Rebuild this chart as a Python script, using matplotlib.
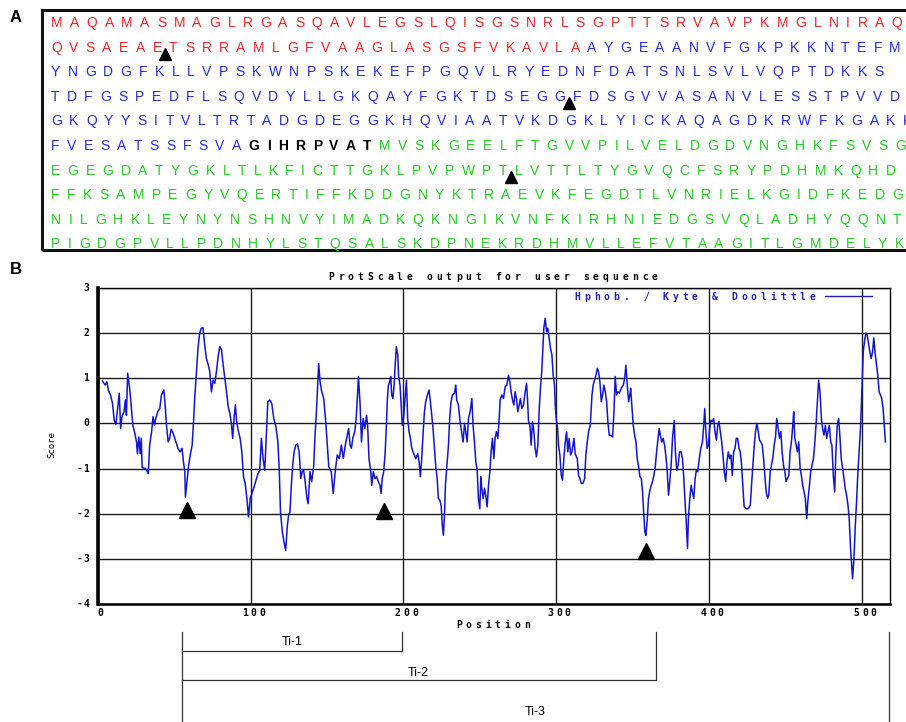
import matplotlib
matplotlib.use("Agg")
import matplotlib.pyplot as plt
import matplotlib.transforms as mtransforms
from matplotlib.lines import Line2D
from matplotlib.patches import Rectangle

W, H = 906, 722

# ---- panel A: sequence ----
SEQ_ROWS = [
    "MAQAMASMAGLRGASQAVLEGSLQISGSNRLSGPTTSRVAVPKMGLNIRAQ",
    "QVSAEAETSRRAMLGFVAAGLASGSFVKAVLAAYGEAANVFGKPKKNTEFMF",
    "YNGDGFKLLVPSKWNPSKEKEFPGQVLRYEDNFDATSNLSVLVQPTDKKS",
    "TDFGSPEDFLSQVDYLLGKQAYFGKTDSEGGFDSGVVASANVLESSTPVVD",
    "GKQYYSITVLTRTADGDEGGKHQVIAATVKDGKLYICKAQAGDKRWFKGAKK",
    "FVESATSSFSVAGIHRPVATMVSKGEELFTGVVPILVELDGDVNGHKFSVSG",
    "EGEGDATYGKLTLKFICTTGKLPVPWPTLVTTLTYGVQCFSRYPDHMKQHD",
    "FFKSAMPEGYVQERTIFFKDDGNYKTRAEVKFEGDTLVNRIELKGIDFKEDG",
    "NILGHKLEYNYNSHNVYIMADKQKNGIKVNFKIRHNIEDGSVQLADHYQQNT",
    "PIGDGPVLLPDNHYLSTQSALSKDPNEKRDHMVLLEFVTAAGITLGMDELYK",
]
N_RED, N_BLUE, N_LINK = 83, 185, 8
SEQ_MARKS = [(1, 6), (3, 30), (6, 27)]  # (row, residue index the mark follows)

# ---- panel B: Kyte & Doolittle profile ----
POS = [3.1, 4.9, 6.0, 7.1, 8.4, 9.7, 10.8, 11.9, 13.0, 14.1, 15.0, 15.9, 17.2, 18.1, 18.8, 19.6,
       20.8, 21.6, 23.0, 24.3, 25.4, 26.0, 26.9, 27.8, 28.5, 29.1, 31.3, 33.1, 34.0, 35.3, 36.2,
       37.1, 38.0, 39.3, 40.6, 41.7, 43.3, 44.2, 45.0, 46.1, 47.0, 48.1, 49.4, 51.2, 52.5, 53.9,
       55.2, 56.1, 57.0, 57.4, 58.3, 59.4, 60.7, 61.8, 62.7, 63.6, 64.5, 65.6, 66.7, 67.8, 68.9,
       70.0, 71.1, 72.4, 73.3, 74.4, 75.5, 76.6, 77.7, 78.8, 79.9, 81.0, 82.1, 83.2, 84.3, 85.4,
       86.5, 87.6, 88.3, 89.2, 90.1, 90.9, 92.1, 93.2, 94.3, 95.4, 96.5, 97.6, 98.7, 99.8, 100.9,
       102.0, 103.3, 104.9, 106.0, 107.1, 108.2, 109.3, 110.4, 111.3, 112.6, 113.9, 115.2, 116.6,
       117.9, 118.8, 119.6, 120.8, 121.9, 123.0, 124.1, 124.9, 125.8, 126.7, 127.6, 128.5, 129.6,
       130.7, 131.8, 132.9, 133.8, 134.7, 135.5, 136.9, 137.7, 138.9, 140.0, 141.3, 142.2, 143.0,
       143.9, 144.6, 145.5, 146.6, 147.9, 149.2, 150.1, 151.2, 152.8, 154.1, 155.4, 156.7, 158.1,
       159.4, 160.7, 162.0, 162.9, 164.2, 165.1, 166.0, 166.9, 168.2, 169.1, 170.0, 170.6, 171.7,
       172.6, 173.7, 174.8, 175.9,
       176.6, 177.5, 178.6, 179.3, 180.3, 181.4, 182.5, 183.6, 184.7, 185.4, 186.2, 187.1, 188.0,
       188.9, 189.5, 190.2, 191.0, 191.7, 192.4, 193.2, 194.1, 194.5, 195.4, 196.3, 196.9, 197.8,
       198.7, 199.3, 200.2, 201.1, 202.0, 202.8, 203.7, 204.6, 205.5, 206.8, 208.1, 209.4, 210.3,
       211.1, 212.0, 213.1, 213.8, 214.6, 215.7, 216.8, 217.7, 218.6, 219.4, 220.3, 221.2, 222.1,
       222.9, 223.8, 224.7, 225.5, 226.2, 226.9, 227.5, 228.4, 229.5, 230.3, 231.2, 232.1, 233.4,
       234.3, 234.9, 236.0, 237.1, 238.2, 239.1, 240.0, 240.8, 241.7, 242.6, 243.7, 244.8, 245.6,
       246.5, 247.4, 248.3, 249.1, 250.0, 250.7, 251.3, 252.2, 253.1, 253.9, 254.8, 255.7, 256.6,
       257.4, 258.3, 259.2, 260.0, 260.9, 261.8, 262.7, 263.3, 264.4, 265.5, 266.6, 267.7, 268.8,
       269.7, 270.5, 271.4, 272.3, 273.1, 274.0, 274.9, 275.8, 276.6, 277.5, 278.6, 279.7, 280.6,
       281.2, 281.9, 282.8, 283.6, 284.5, 285.4, 286.2, 287.1, 288.0, 288.9, 289.7, 290.6, 291.3,
       291.9, 292.8, 293.7, 294.5, 295.4, 296.3, 297.2, 298.0, 298.9, 299.3, 300.0, 300.9, 301.5,
       302.4, 303.3, 304.1, 305.0, 305.9, 306.8, 307.6, 308.5, 309.4, 310.3, 311.6, 312.4, 313.8,
       314.6, 315.5, 316.4, 317.5, 318.6, 319.4, 320.3, 321.2, 322.3, 323.4, 324.2, 325.1, 326.0,
       326.9, 327.7, 328.6, 329.5, 330.3, 331.2, 332.1, 333.0, 333.8, 334.7, 335.6, 336.9, 337.8,
       338.6, 339.5, 340.4, 341.3, 342.6, 343.9, 344.8, 345.6, 346.5, 347.4, 348.5,
       348.7, 349.6, 350.4, 351.3, 352.2, 353.0, 353.9, 354.8, 355.7, 356.5, 357.2, 358.0, 358.7,
       359.6, 360.4, 361.3, 362.2, 363.0, 363.9, 364.8, 365.7, 366.5, 367.4, 368.3, 369.1, 370.0,
       370.9, 371.7, 372.6, 373.5, 374.3, 375.2, 376.1, 377.2, 378.0, 378.9, 379.8, 380.7, 381.7,
       382.6, 383.5, 384.3, 385.2, 385.9, 386.5, 387.4, 388.3, 389.1, 390.0, 390.9, 391.7, 392.6,
       393.5, 394.6, 395.7, 396.5, 397.2, 397.8, 398.7, 399.6, 400.4, 401.3, 402.2, 403.0, 403.9,
       404.8, 405.7, 406.5, 407.4, 408.3, 409.1, 410.0, 410.9, 411.7, 412.6, 413.5, 414.3, 415.2,
       416.1, 417.0, 417.8, 418.7, 419.6, 420.4, 421.3, 422.2, 423.0, 424.3, 425.7, 427.0, 427.8,
       428.7, 429.6, 430.4, 431.3, 432.2, 433.0, 433.9, 434.8, 435.7, 436.5, 437.4, 438.3, 439.1,
       440.0, 440.9, 441.7, 442.6, 443.5, 444.3, 445.2, 446.1, 447.0, 447.8, 448.7, 449.6, 450.4,
       451.3, 452.2, 453.0, 453.9, 454.8, 455.4, 456.1, 457.0, 457.8, 458.7, 459.6, 460.4, 461.3,
       462.2, 463.0, 463.9, 464.6, 465.7, 466.5, 467.4, 468.3, 469.1, 470.0, 470.9, 471.7, 472.6,
       473.5, 474.3, 475.2, 476.1, 477.0, 477.8, 478.7, 479.6, 480.4, 481.3, 482.2, 483.0, 483.9,
       484.8, 485.7, 486.5, 487.4, 488.3, 489.1, 490.0, 490.9, 491.7, 492.6, 493.5, 493.9, 494.8,
       495.7, 496.5, 497.4, 498.3, 499.1, 500.0, 500.9, 501.7, 502.6, 503.5, 504.3, 505.2, 506.1,
       507.0, 507.8, 508.7, 509.6, 510.4, 511.3, 512.2, 513.0, 513.9, 514.8, 515.4]
SCORE = [0.94, 0.85, 0.92, 0.72, 0.63, 0.44, 0.07, -0.02, 0.32, 0.67, -0.11, 0.15, 0.26, 0.52, 0.18, 1.11,
         0.81, 0.52, -0.04, -0.22, -0.41, -0.67, -0.30, -0.67, -0.33, -0.98, -1.00, -1.11, -0.48, -0.18, 0.15,
         -0.04, 0.11, 0.26, 0.33, 0.63, 0.74, 0.37, -0.04, -0.41, -0.33, -0.13, -0.22, -0.41, -0.55, -0.63,
         -0.55, -0.85, -1.07, -1.63, -1.33, -0.96, -0.67, -0.48, 0.04, 0.63, 1.07, 1.66, 2.00, 2.11, 2.12,
         1.74, 1.44, 1.29, 1.15, 0.70, 0.96, 0.89, 1.15, 1.48, 1.70, 1.63, 1.29, 1.00, 0.70, 0.37,
         0.22, -0.04, -0.33, 0.11, 0.41, 0.04, -0.18, -0.33, -0.63, -1.18, -1.33, -1.66, -2.07, -1.66, -1.55,
         -1.44, -1.29, -1.11, -1.04, -0.33, -0.78, -1.04, -0.18, 0.48, 0.52, 0.44, 0.11, -0.07,
         -0.41, -1.04, -1.96, -2.40, -2.63, -2.81, -2.26, -2.03, -1.96, -1.37, -0.92, -0.63, -0.48,
         -0.45, -0.63, -1.22, -1.07, -1.04, -1.22, -1.66, -1.78, -1.07, -1.29, -0.96, -0.26, 0.18,
         0.85, 1.33, 0.92, 0.70, 0.55, 0.04, -0.41, -0.96, -1.07, -1.55, -1.07, -0.70, -0.78,
         -0.48, -0.78, -0.48, -0.33, -0.11, -0.48, -0.55, -0.33, -0.18, 0.11, 0.63, 1.04, 0.41,
         -0.41, 0.11, -0.11, 0.18,
         -0.04, -0.78, -1.04, -1.37, -1.07, -1.22, -1.18, -1.29, -1.37, -1.55, -1.22, -1.07, -0.70,
         -0.04, 0.52, 0.85, 0.92, 1.04, 0.63, 0.55, 0.92, 1.22, 1.70, 1.52, 1.04, 0.85,
         0.33, -0.04, 0.15, 0.55, 0.96, 0.11, -0.18, -0.33, -0.55, -0.67, -0.78, -0.67, -0.85,
         -1.18, -0.78, -0.11, 0.26, 0.48, 0.63, 0.74, 0.48, 0.18, -0.11, -0.55, -0.96, -1.22,
         -1.66, -1.70, -1.81, -2.26, -2.48, -2.03, -1.37, -0.96, -0.48, 0.11, 0.48, 0.63, 0.67,
         0.85, 0.52, 0.41, 0.04, -0.22, -0.41, 0.00, -0.18, -0.41, 0.11, 0.26, 0.55, -0.04,
         -0.41, -0.85, -1.04, -1.66, -1.89, -1.18, -1.44, -1.66, -1.44, -1.59, -1.85, -1.37, -1.07,
         -0.63, -0.33, -0.78, -0.33, -0.18, -0.33, 0.11, 0.52, 0.63, 0.55, 0.81, 0.85, 1.07,
         0.92, 0.70, 0.52, 0.41, 0.70, 0.55, 0.26, 0.41, 0.55, 0.33, 0.41, 0.70, 0.89,
         0.55, 0.04, -0.04, -0.48, 0.04, -0.18, -0.55, -0.74, -0.48, 0.33, 0.78, 1.18, 1.66,
         2.11, 2.33, 2.03, 2.11, 1.89, 1.66, 1.52, 1.07, 0.85, 0.44, 0.11, -0.11, -0.48,
         -0.70, -1.15, -1.26, -0.78, -0.41, -0.18, -0.63, -0.33, -0.70, -0.63, -0.33, -0.67, -0.78,
         -1.15, -1.22, -1.33, -1.33, -1.22, -0.70, -0.41, -0.18, -0.04, 0.63, 0.85, 0.96, 1.07,
         1.22, 1.15, 0.92, 0.48, 0.63, 0.85, 0.70, 0.48, 0.04, -0.26, -0.26, -0.30, 0.26,
         1.04, 0.63, 0.70, 0.67, 0.78, 0.85, 1.00, 1.29, 0.85, 0.48, 0.70,
         0.78, 0.33, -0.04, -0.26, -0.41, -0.78, -0.96, -1.18, -1.22, -1.52, -1.96, -2.40, -2.48,
         -2.11, -1.66, -1.48, -1.37, -1.29, -1.15, -0.96, -0.63, -0.37, -0.11, -0.30, -0.41, -0.33,
         -0.48, -0.70, -1.04, -1.59, -1.29, -0.92, -0.33, 0.07, -0.63, -1.04, -0.92, -0.63, -0.63,
         -0.78, -1.22, -1.74, -2.26, -2.77, -2.11, -1.66, -1.37, -1.52, -1.66, -1.22, -1.04, -1.07,
         -0.81, -0.55, -0.41, -0.04, 0.33, -0.11, -0.55, -0.48, -0.11, 0.07, 0.04, 0.11, -0.18,
         -0.37, -0.04, 0.04, -0.18, -0.41, -0.70, -1.07, -1.29, -0.85, -0.63, -0.78, -0.70, -1.15,
         -0.63, -0.55, -0.33, -0.33, -0.55, -0.63, -0.92, -1.44, -1.85, -1.89, -1.89, -1.81, -1.37,
         -0.92, -0.48, -0.18, 0.00, -0.18, -0.37, -0.41, -0.48, -0.78, -1.15, -1.52, -1.66, -1.59,
         -1.07, -0.92, -0.78, -0.48, -0.30, 0.11, -0.11, -0.33, -0.18, -0.63, -0.92, -1.07, -1.29,
         -1.22, -1.15, -0.63, -0.41, -0.04, 0.26, -0.33, -0.48, -0.63, -0.41, -1.00, -1.15, -1.37,
         -1.52, -1.66, -2.11, -1.74, -1.37, -1.07, -0.92, -0.78, -0.48, -0.04, 0.48, 0.96, 0.70,
         0.11, -0.11, -0.26, -0.04, -0.33, -0.18, -0.04, -0.41, -0.48, -1.15, -1.52, -0.63, -0.04,
         0.11, -0.33, -0.78, -1.00, -1.22, -1.44, -1.59, -1.81, -2.11, -2.77, -3.22, -3.44, -3.00,
         -2.26, -1.74, -1.07, -0.55, -0.11, 0.70, 1.59, 1.81, 2.00, 1.96, 1.78, 1.59, 1.44,
         1.59, 1.89, 1.55, 1.29, 1.07, 0.70, 0.63, 0.55, 0.33, -0.11, -0.41]

MARK_POS = [58.5, 187, 359]
MARK_SCORE = [-1.92, -1.95, -2.83]

TI_NAMES = ["Ti-1", "Ti-2", "Ti-3"]
TI_START = [55, 55, 55]
TI_END = [199, 365, 518]

X_TICKS = [0, 100, 200, 300, 400, 500]
Y_TICKS = [3, 2, 1, 0, -1, -2, -3, -4]

PX = mtransforms.IdentityTransform()
fig = plt.figure(figsize=(W / 100, H / 100), dpi=100)
renderer = fig.canvas.get_renderer()

COL = {"red": "#e8262c", "blue": "#2a2ad8", "link": "black", "green": "#22cc22"}


def spaced(x, y, s, pitch=9.8, size=7, color="black", anchor="center"):
    # pixel-font look: monospace chars on a wide fixed pitch, (x, y) from top-left
    n = len(s)
    for i, ch in enumerate(s):
        if anchor == "right":
            off = (i - (n - 1)) * pitch
        else:
            off = (i - (n - 1) / 2) * pitch
        fig.text(x + off, H - y, ch, transform=PX, ha="center", va="baseline",
                 fontsize=size, family="DejaVu Sans Mono", weight="bold", color=color)


# panel A
fig.text(16, H - 18, "A", transform=PX, ha="center", va="center", fontsize=12,
         weight="bold", family="Liberation Sans")
fig.add_artist(Rectangle((42, H - 250), 900, 240, transform=PX, fill=False,
                         lw=2.2, edgecolor="#111111"))

GAP = 7.4
k = 0
bounds = []
for r, row in enumerate(SEQ_ROWS):
    x = 51
    yb = H - (27 + r * 24.6)
    row_bounds = []
    for ch in row:
        if k < N_RED:
            col, wt = COL["red"], "normal"
        elif k < N_RED + N_BLUE:
            col, wt = COL["blue"], "normal"
        elif k < N_RED + N_BLUE + N_LINK:
            col, wt = COL["link"], "bold"
        else:
            col, wt = COL["green"], "normal"
        if x < W - 2:
            t = fig.text(x, yb, ch, transform=PX, ha="left", va="baseline", fontsize=10,
                         family="Liberation Sans", weight=wt, color=col)
            x += t.get_window_extent(renderer).width + GAP
        else:
            x += 10 + GAP
        row_bounds.append(x - GAP / 2)
        k += 1
    bounds.append(row_bounds)

for r, j in SEQ_MARKS:
    fig.add_artist(Line2D([bounds[r][j]], [H - (27 + r * 24.6) - 2], transform=PX,
                          marker="^", ms=9, color="black", lw=0))

# panel B
fig.text(16, H - 270, "B", transform=PX, ha="center", va="center", fontsize=12,
         weight="bold", family="Liberation Sans")

AX_L, AX_R, AX_T, AX_B = 97.7, 890, 288, 604
ax = fig.add_axes([AX_L / W, 1 - AX_B / H, (AX_R - AX_L) / W, (AX_B - AX_T) / H])
ax.set_xlim(1.4, 518.4)
ax.set_ylim(-4, 3)
ax.set_xticks(X_TICKS)
ax.set_yticks(Y_TICKS)
ax.tick_params(length=0, labelbottom=False, labelleft=False)
ax.grid(True, color="#1a1a1a", lw=1.0)
ax.spines["left"].set_linewidth(2.6)
ax.spines["bottom"].set_linewidth(1.8)
ax.spines["top"].set_linewidth(1.0)
ax.spines["right"].set_linewidth(1.0)

ax.plot(POS, SCORE, color="#1414cc", lw=1.1)
ax.plot(MARK_POS, MARK_SCORE, "^", color="black", ms=12, clip_on=False)

for t in X_TICKS:
    xd, _ = ax.transData.transform((t, 0))
    spaced(xd + 3, 616, str(t), pitch=8.5)
for t in Y_TICKS:
    _, yd = ax.transData.transform((0, t))
    spaced(86, H - yd + 3, str(t), pitch=6.5, anchor="right")

spaced(493, 279.5, "ProtScale output for user sequence")
spaced(695, 300, "Hphob. / Kyte & Doolittle", color="#2020b8")
fig.add_artist(Line2D([825, 872], [H - 296, H - 296], transform=PX, color="#2020b8", lw=1))
spaced(493, 628, "Position")
fig.text(52, H - 445, "Score", transform=PX, rotation=90, ha="center", va="center",
         fontsize=6.5, family="DejaVu Sans Mono")

# Ti fragments below the axis
bt = mtransforms.blended_transform_factory(ax.transData, PX)
levels = [651, 680, 730]
label_y = [642, 673, 712]
fig.add_artist(Line2D([TI_START[0]] * 2, [H - 632, 0], transform=bt, color="#333333", lw=0.9))
for name, s, e, lv, ly in zip(TI_NAMES, TI_START, TI_END, levels, label_y):
    fig.add_artist(Line2D([s, e], [H - lv, H - lv], transform=bt, color="#333333", lw=0.9))
    fig.add_artist(Line2D([e, e], [H - 632, H - lv], transform=bt, color="#333333", lw=0.9))
    fig.text((s + e) / 2, H - ly, name, transform=bt, ha="center", va="center",
             fontsize=9, family="Liberation Sans")

fig.savefig("out.png", dpi=100)
plt.close(fig)
